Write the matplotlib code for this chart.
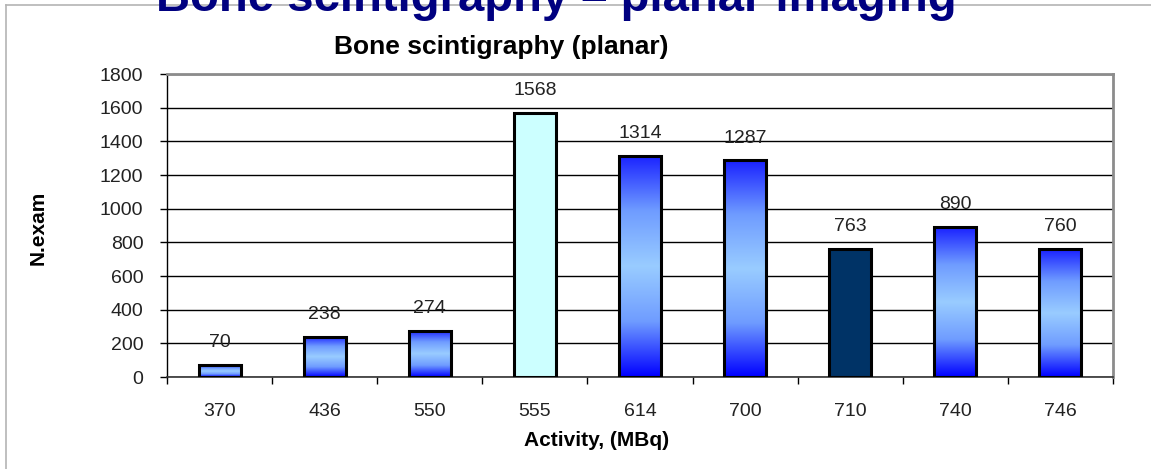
import numpy as np
import matplotlib
matplotlib.use("Agg")
import matplotlib.pyplot as plt
from matplotlib.colors import LinearSegmentedColormap
from matplotlib.lines import Line2D

plt.rcParams['font.family'] = ['Liberation Sans', 'DejaVu Sans']

activity = ["370", "436", "550", "555", "614", "700", "710", "740", "746"]
n_exam = [70, 238, 274, 1568, 1314, 1287, 763, 890, 760]
# fill style per bar: gradient or a flat colour
fills = ["grad", "grad", "grad", "#ccffff", "grad", "grad", "#003366", "grad", "grad"]

W, H = 1151, 469
fig = plt.figure(figsize=(W / 100, H / 100), dpi=100)
ax = fig.add_axes([167 / W, 1 - 377 / H, 946 / W, 303 / H])

blue_grad = LinearSegmentedColormap.from_list(
    "bluegrad", ["#0000ff", "#6f9cff", "#99ccff", "#6f9cff", "#1a22ff"])
grad = np.linspace(0, 1, 256).reshape(-1, 1)

x = np.arange(len(activity))
width = 0.4
bars = ax.bar(x, n_exam, width, color="none", edgecolor="black", linewidth=2.2, zorder=3)
for b, f in zip(bars, fills):
    x0, y0 = b.get_x(), b.get_y()
    w, h = b.get_width(), b.get_height()
    if f == "grad":
        ax.imshow(grad, extent=(x0, x0 + w, y0, y0 + h), origin="lower",
                  cmap=blue_grad, aspect="auto", zorder=2)
    else:
        ax.bar(b.get_x() + w / 2, h, w, color=f, zorder=2)

for xi, v in zip(x, n_exam):
    ax.annotate(str(v), (xi, v), xytext=(0, 16), textcoords="offset points",
                ha="center", va="center", fontsize=14, color="#222222")

ax.set_xlim(-0.5, len(activity) - 0.5)
ax.set_ylim(0, 1800)
ax.set_yticks(np.arange(0, 1801, 200))
ax.yaxis.grid(True, color="black", linewidth=1)
ax.set_axisbelow(True)

# category labels in the middle, tick marks on the boundaries
ax.set_xticks(x)
ax.set_xticklabels(activity)
ax.set_xticks(np.arange(-0.5, len(activity)), minor=True)
ax.tick_params(axis="x", which="major", length=0, pad=19, labelsize=14, labelcolor="#222222")
ax.tick_params(axis="x", which="minor", length=5, width=1, direction="out")
ax.tick_params(axis="y", length=5, width=1, pad=12, labelsize=14, labelcolor="#222222")

for side in ["top", "right"]:
    ax.spines[side].set_color("#8c8c8c")
    ax.spines[side].set_linewidth(2)
ax.spines["left"].set_linewidth(1)
ax.spines["bottom"].set_linewidth(1.2)
ax.spines["bottom"].set_color("#333333")

fig.text(597 / W, 1 - 440 / H, "Activity, (MBq)", ha="center", va="center",
         fontsize=15, fontweight="bold")
fig.text(38 / W, 1 - 228 / H, "N.exam", rotation=90, ha="center", va="center",
         fontsize=15, fontweight="bold")
fig.text(501 / W, 1 - 47 / H, "Bone scintigraphy (planar)", ha="center", va="center",
         fontsize=19, fontweight="bold")

# chart frame and the slide heading above it
fig.add_artist(Line2D([6 / W, 6 / W], [0, 1 - 5 / H], color="#b4b4b4", linewidth=1.2))
fig.add_artist(Line2D([6 / W, 1], [1 - 5 / H, 1 - 5 / H], color="#b4b4b4", linewidth=1.2))
fig.text(556 / W, 1 - 11 / H, "Bone scintigraphy \u2013 planar imaging", ha="center",
         va="baseline", fontsize=34, fontweight="bold", color="#000080")

fig.savefig("out.png", dpi=100)
